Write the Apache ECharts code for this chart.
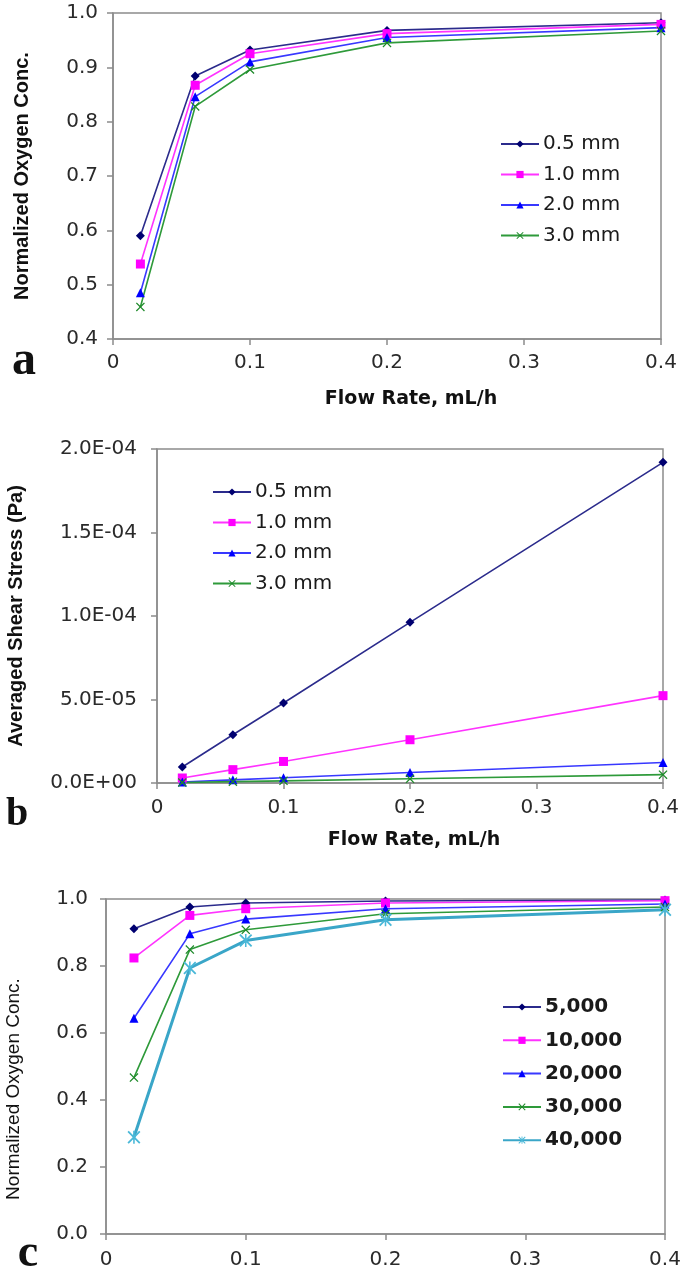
<!DOCTYPE html>
<html>
<head>
<meta charset="utf-8">
<script src="https://cdn.jsdelivr.net/npm/echarts@6/dist/echarts.min.js"></script>
<style>html,body{margin:0;padding:0;background:#fff;}#chart{width:685px;height:1270px;}</style>
</head>
<body>
<div id="chart"></div>
<script>
// ---- data ----
const flowRates = [0.02, 0.06, 0.1, 0.2, 0.4];
const xTicks = ['0', '0.1', '0.2', '0.3', '0.4'];

// panel a: normalized oxygen concentration by thickness
const thicknessNames = ['0.5 mm', '1.0 mm', '2.0 mm', '3.0 mm'];
const oxy05 = [0.590, 0.884, 0.932, 0.968, 0.982];
const oxy10 = [0.538, 0.867, 0.925, 0.962, 0.979];
const oxy20 = [0.485, 0.846, 0.910, 0.955, 0.973];
const oxy30 = [0.459, 0.828, 0.896, 0.945, 0.967];

// panel b: averaged shear stress (Pa)
const shear05 = [0.96e-5, 2.89e-5, 4.79e-5, 9.62e-5, 1.92e-4];
const shear10 = [0.30e-5, 0.80e-5, 1.29e-5, 2.59e-5, 5.23e-5];
const shear20 = [0.06e-5, 0.19e-5, 0.31e-5, 0.63e-5, 1.23e-5];
const shear30 = [0.03e-5, 0.08e-5, 0.13e-5, 0.25e-5, 0.50e-5];

// panel c: normalized oxygen concentration by cell density
const densityNames = ['5,000', '10,000', '20,000', '30,000', '40,000'];
const d5k = [0.911, 0.976, 0.988, 0.994, 0.997];
const d10k = [0.824, 0.951, 0.971, 0.988, 0.995];
const d20k = [0.644, 0.896, 0.940, 0.971, 0.985];
const d30k = [0.467, 0.849, 0.908, 0.956, 0.976];
const d40k = [0.289, 0.794, 0.876, 0.938, 0.968];

// ---- styles ----
const XSYM = 'path://M0,1 L1,0 L5,4 L9,0 L10,1 L6,5 L10,9 L9,10 L5,6 L1,10 L0,9 L4,5 Z';
const ASYM = 'path://M0,1 L1,0 L5,4 L9,0 L10,1 L6,5 L10,9 L9,10 L5,6 L1,10 L0,9 L4,5 Z M4.4,0 L5.6,0 L5.6,10 L4.4,10 Z';
const styles = [
  {line: '#2b2b8c', mark: '#000070', symbol: 'diamond', size: 9, width: 1.6},
  {line: '#ff33ff', mark: '#ff00ff', symbol: 'rect', size: 9, width: 1.6},
  {line: '#3838ff', mark: '#0000ff', symbol: 'triangle', size: 9, width: 1.6},
  {line: '#2e9a3a', mark: '#1e8a2a', symbol: XSYM, size: 9, width: 1.6},
  {line: '#3aa6c8', mark: '#4ab8d8', symbol: ASYM, size: 13, width: 3}
];

function pairs(vals) { return flowRates.map((x, i) => [x, vals[i]]); }
function mkSeries(name, vals, k, idx) {
  const s = styles[k];
  return {
    type: 'line', name: name, data: pairs(vals),
    xAxisIndex: idx, yAxisIndex: idx,
    symbol: s.symbol, symbolSize: s.size, showSymbol: true,
    lineStyle: {color: s.line, width: s.width},
    itemStyle: {color: s.mark, borderWidth: 0},
    emphasis: {disabled: true}, animation: false
  };
}
function sciFmt(v) {
  if (Math.abs(v) < 1e-20) return '0.0E+00';
  let e = Math.floor(Math.log10(Math.abs(v)) + 1e-9);
  let m = v / Math.pow(10, e);
  let es = Math.abs(e) < 10 ? '0' + Math.abs(e) : '' + Math.abs(e);
  return m.toFixed(1) + 'E' + (e < 0 ? '-' : '+') + es;
}

const frame = '#8c8c8c';
const tickFont = 'DejaVu Sans';
function xAx(idx, margin) {
  return {
    type: 'value', gridIndex: idx, min: 0, max: 0.4, interval: 0.1,
    axisLine: {show: true, onZero: false, lineStyle: {color: frame, width: 1.5}},
    axisTick: {show: true, length: 6, lineStyle: {color: frame, width: 1.5}},
    splitLine: {show: false},
    axisLabel: {color: '#2a2a2a', fontFamily: tickFont, fontSize: 20, margin: margin,
      formatter: v => xTicks[Math.round(v * 10)]}
  };
}
function yAx(idx, min, max, interval, fmt, fs, margin) {
  return {
    type: 'value', gridIndex: idx, min: min, max: max, interval: interval,
    axisLine: {show: true, lineStyle: {color: frame, width: 1.5}},
    axisTick: {show: true, length: 6, lineStyle: {color: frame, width: 1.5}},
    splitLine: {show: false},
    axisLabel: {color: '#2a2a2a', fontFamily: tickFont, fontSize: fs, margin: margin, formatter: fmt}
  };
}
function legend(names, left, top, gap, bold, fs) {
  return {
    data: names, orient: 'vertical', left: left, top: top,
    itemWidth: 38, itemHeight: 9, itemGap: gap,
    selectedMode: false,
    textStyle: {color: '#1a1a1a', fontFamily: tickFont, fontSize: fs, fontWeight: bold ? 'bold' : 'normal',
      lineHeight: 20, padding: [0, 0, 0, -1]}
  };
}
function txt(x, y, text, opts) {
  return {
    type: 'text', x: x, y: y, rotation: opts.rot || 0, silent: true,
    style: {text: text, fill: opts.color || '#111', font: opts.font, align: 'center', verticalAlign: 'middle'}
  };
}

const option = {
  backgroundColor: '#ffffff',
  animation: false,
  grid: [
    {left: 113, top: 13, width: 548, height: 326, show: true, borderColor: frame, borderWidth: 1.5},
    {left: 157, top: 449, width: 506, height: 334, show: true, borderColor: frame, borderWidth: 1.5},
    {left: 106, top: 899, width: 559, height: 335, show: true, borderColor: frame, borderWidth: 1.5}
  ],
  xAxis: [xAx(0, 14), xAx(1, 15), xAx(2, 16)],
  yAxis: [
    yAx(0, 0.4, 1.0, 0.1, v => v.toFixed(1), 20, 15),
    yAx(1, 0, 2e-4, 5e-5, sciFmt, 20, 20),
    yAx(2, 0, 1.0, 0.2, v => v.toFixed(1), 20, 18)
  ],
  legend: [
    legend(thicknessNames, 495, 129, 10.5, false, 20),
    legend(thicknessNames, 207, 477, 10.5, false, 20),
    legend(densityNames, 497, 992, 13.3, true, 20)
  ],
  series: [
    mkSeries('0.5 mm', oxy05, 0, 0),
    mkSeries('1.0 mm', oxy10, 1, 0),
    mkSeries('2.0 mm', oxy20, 2, 0),
    mkSeries('3.0 mm', oxy30, 3, 0),
    mkSeries('0.5 mm', shear05, 0, 1),
    mkSeries('1.0 mm', shear10, 1, 1),
    mkSeries('2.0 mm', shear20, 2, 1),
    mkSeries('3.0 mm', shear30, 3, 1),
    mkSeries('5,000', d5k, 0, 2),
    mkSeries('10,000', d10k, 1, 2),
    mkSeries('20,000', d20k, 2, 2),
    mkSeries('30,000', d30k, 3, 2),
    mkSeries('40,000', d40k, 4, 2)
  ],
  graphic: [
    txt(22, 176, 'Normalized Oxygen Conc.', {rot: Math.PI / 2, font: 'bold 20px "Liberation Sans"'}),
    txt(411, 399, 'Flow Rate, mL/h', {font: 'bold 19px "DejaVu Sans"'}),
    txt(16.5, 616, 'Averaged Shear Stress (Pa)', {rot: Math.PI / 2, font: 'bold 20px "Liberation Sans"'}),
    txt(414, 840, 'Flow Rate, mL/h', {font: 'bold 19px "DejaVu Sans"'}),
    txt(13.5, 1089, 'Normalized Oxygen Conc.', {rot: Math.PI / 2, font: '19px "Liberation Sans"'}),
    txt(24, 362, 'a', {font: 'bold 48px "Liberation Serif"', color: '#111'}),
    txt(17, 815, 'b', {font: 'bold 40px "Liberation Serif"', color: '#111'}),
    txt(28, 1254, 'c', {font: 'bold 46px "Liberation Serif"', color: '#111'})
  ]
};

const chart = echarts.init(document.getElementById('chart'), null, {renderer: 'canvas'});
chart.setOption(option);
</script>
</body>
</html>
